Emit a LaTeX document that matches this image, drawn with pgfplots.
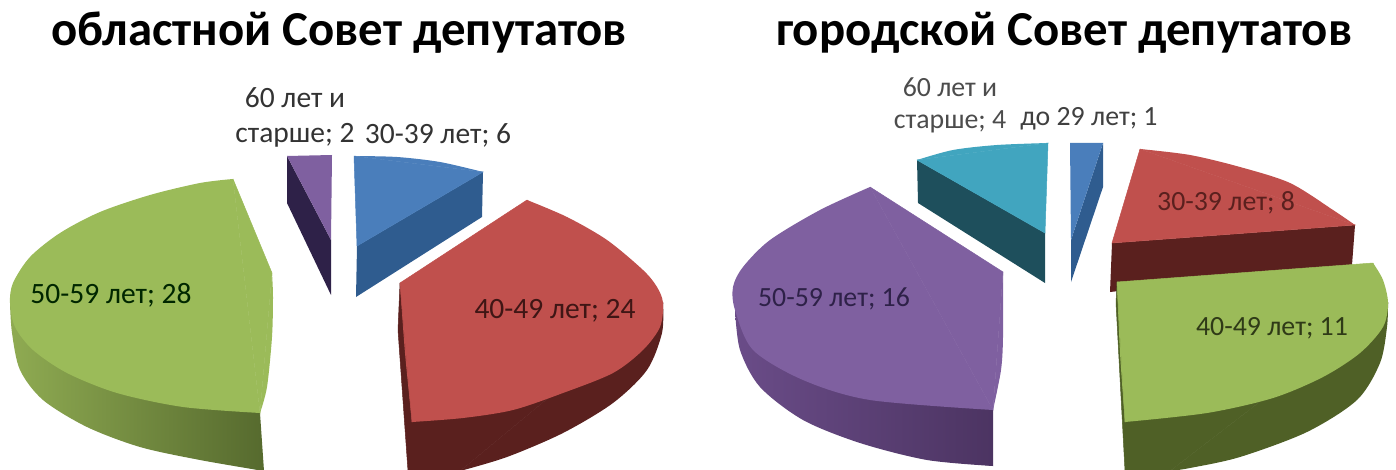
\documentclass[border=0pt]{standalone}
\usepackage{pgfplots}
\pgfplotsset{compat=1.18}
\usepackage{fontspec}
\setmainfont{Carlito}
\definecolor{grnT}{HTML}{9BBB59}
\definecolor{grnL}{HTML}{8FAB52}
\definecolor{grnD}{HTML}{566A2E}
\definecolor{grnS}{HTML}{4F6026}
\definecolor{redT}{HTML}{C0504D}
\definecolor{redS}{HTML}{5A201E}
\definecolor{bluT}{HTML}{4A7EBB}
\definecolor{bluS}{HTML}{2F5C8F}
\definecolor{purT}{HTML}{7F60A0}
\definecolor{purS}{HTML}{2E2148}
\definecolor{purL}{HTML}{6A4C88}
\definecolor{purD}{HTML}{4C3462}
\definecolor{teaT}{HTML}{41A5BF}
\definecolor{teaS}{HTML}{1E4F5C}
\newcommand{\ttl}{\fontsize{48.8}{50}\selectfont\bfseries}
\newcommand{\lblA}{\fontsize{29.5}{35}\selectfont}
\newcommand{\lblB}{\fontsize{27.8}{32}\selectfont}
\begin{document}
\begin{tikzpicture}
\begin{axis}[
  scale only axis, width=1396pt, height=470pt,
  xmin=0, xmax=1396, ymin=0, ymax=470, y dir=reverse,
  hide axis, clip=true,
  every axis plot/.append style={draw=none},
  arc/.style={smooth, tension=0.5},
  face/.style={fill=#1, draw=#1, line width=0.5pt},
]
% left chart: oblastnoi
% green side, polygon lies under the curve so no seam shows in the gradient
\addplot[left color=grnL, right color=grnD] coordinates {(10,303) (20,368) (43,398) (87,425) (140,445) (200,458) (264,471) (260,413)};
\addplot[arc, left color=grnL, right color=grnD] coordinates {(10,303) (12,333) (20,370) (43,400) (87,427) (140,447) (200,460) (264,471)};
% green top
\addplot[face=grnT] coordinates {(233,179) (260,413) (272,273) (233,179)};
\addplot[arc, fill=grnT] coordinates {(233,179) (200,183) (150,195) (100,212) (60,233) (30,257) (13,283) (10,303) (15,327) (33,350) (67,373) (117,393) (183,407) (260,413)};
\addplot[arc, fill=grnT] coordinates {(260,413) (267,387) (272,337) (273,297) (272,273)};
% purple
\addplot[fill=purS] coordinates {(287,156) (287,203) (331,295) (331,240)};
\addplot[fill=purT] coordinates {(287,156) (332,155) (331,240)};
% blue
\addplot[fill=bluS] coordinates {(483,172) (482,217) (356,297) (357,246)};
\addplot[face=bluT] coordinates {(354,156) (483,172) (357,246) (354,156)};
\addplot[arc, fill=bluT] coordinates {(354,156) (397,157) (440,162) (483,172)};
% red side
\addplot[face=redS] coordinates {(400,283) (398,330) (408,471) (460,471) (663,303) (400,283)};
\addplot[arc, fill=redS] coordinates {(460,471) (507,457) (563,433) (613,403) (647,370) (662,333) (663,303)};
% red top
\addplot[face=redT] coordinates {(527,200) (663,303) (412,422) (400,283) (527,200)};
\addplot[arc, fill=redT] coordinates {(527,200) (567,217) (607,240) (643,270) (657,287) (663,303) (660,327) (643,350) (613,373) (563,393) (513,410) (463,418) (412,422)};
\addplot[arc, fill=redT] coordinates {(412,422) (405,353) (400,283)};
% right chart: gorodskoi
% purple side
\addplot[left color=purL, right color=purD] coordinates {(735,310) (740,348) (760,385) (803,418) (860,441) (927,458) (993,466) (993,410)};
\addplot[arc, left color=purL, right color=purD] coordinates {(735,310) (740,350) (760,387) (803,420) (860,443) (927,460) (993,466)};
% purple top
\addplot[face=purT] coordinates {(870,187) (993,410) (1003,272) (870,187)};
\addplot[arc, fill=purT] coordinates {(870,187) (820,210) (770,240) (743,267) (733,287) (735,310) (753,350) (803,380) (870,400) (993,410)};
\addplot[arc, fill=purT] coordinates {(993,410) (1001,370) (1003,337) (1003,272)};
% teal
\addplot[fill=teaS] coordinates {(917,160) (918,203) (1045,283) (1045,233)};
\addplot[face=teaT] coordinates {(917,160) (1048,143) (1045,233) (917,160)};
\addplot[arc, fill=teaT] coordinates {(917,160) (953,150) (997,145) (1048,143)};
% blue
\addplot[fill=bluS] coordinates {(1103,143) (1103,187) (1071,282) (1071,240)};
\addplot[fill=bluT] coordinates {(1070,143) (1103,143) (1071,240)};
% red
\addplot[fill=redS] coordinates {(1355,225) (1352,265) (1110,292) (1112,243)};
\addplot[face=redT] coordinates {(1140,149) (1355,225) (1112,243) (1140,149)};
\addplot[arc, fill=redT] coordinates {(1140,149) (1190,155) (1240,167) (1290,183) (1333,210) (1355,225)};
% green side
\addplot[face=grnS] coordinates {(1117,282) (1116,303) (1125,471) (1170,471) (1388,303) (1117,282)};
\addplot[arc, fill=grnS] coordinates {(1170,471) (1190,468) (1240,457) (1307,432) (1357,400) (1380,363) (1387,327) (1388,303)};
% green top
\addplot[face=grnT] coordinates {(1373,263) (1117,282) (1125,422) (1388,303) (1373,263)};
\addplot[arc, fill=grnT] coordinates {(1117,282) (1120,353) (1125,422)};
\addplot[arc, fill=grnT] coordinates {(1125,422) (1207,413) (1273,398) (1323,377) (1360,353) (1383,327) (1388,303) (1383,280) (1373,263)};
% titles and data labels
\node[font=\ttl, text=black] at (axis cs:339,33) {областной Совет депутатов};
\node[font=\ttl, text=black] at (axis cs:1064,33) {городской Совет депутатов};
\node[font=\lblA, text=black!80, align=center] at (axis cs:295,117) {60 лет и\\старше; 2};
\node[font=\lblA, text=black!80] at (axis cs:438,135) {30-39 лет; 6};
\node[font=\lblA, text=black!85!green] at (axis cs:111,295) {50-59 лет; 28};
\node[font=\lblA, text=redS!70!black] at (axis cs:555,311) {40-49 лет; 24};
\node[font=\lblB, text=black!70, align=center] at (axis cs:950,105) {60 лет и\\старше; 4};
\node[font=\lblB, text=black!75] at (axis cs:1089,119) {до 29 лет; 1};
\node[font=\lblB, text=purS] at (axis cs:834,299) {50-59 лет; 16};
\node[font=\lblB, text=redS] at (axis cs:1226,203) {30-39 лет; 8};
\node[font=\lblB, text=grnS!60!black] at (axis cs:1272,328) {40-49 лет; 11};
\end{axis}
\pgfresetboundingbox
\path[use as bounding box] (current axis.south west) rectangle (current axis.north east);
\end{tikzpicture}
\end{document}
